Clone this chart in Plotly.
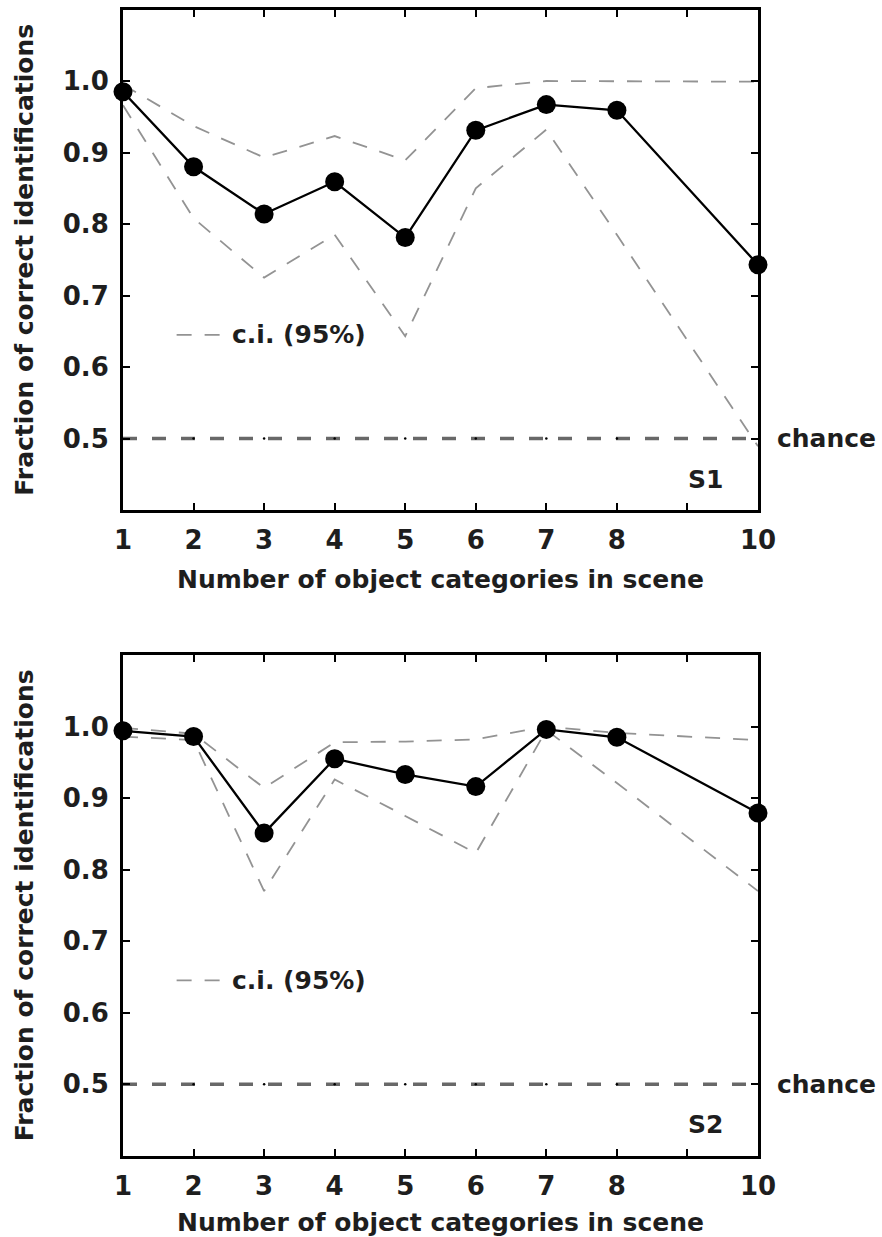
import plotly.graph_objects as go

# ---- data ----
n_categories = [1, 2, 3, 4, 5, 6, 7, 8, 10]

s1_mean = [0.985, 0.880, 0.814, 0.859, 0.781, 0.931, 0.967, 0.959, 0.743]
s1_upper = [0.995, 0.937, 0.893, 0.923, 0.889, 0.990, 1.000, 1.000, 0.999]
s1_lower = [0.966, 0.808, 0.725, 0.785, 0.643, 0.850, 0.932, 0.785, 0.489]

s2_mean = [0.994, 0.986, 0.851, 0.955, 0.933, 0.916, 0.996, 0.985, 0.879]
s2_upper = [0.998, 0.990, 0.914, 0.978, 0.979, 0.982, 1.000, 0.991, 0.981]
s2_lower = [0.986, 0.981, 0.770, 0.926, 0.875, 0.823, 0.995, 0.921, 0.770]

chance_level = 0.5
chance_x = [1, 10]
chance_marks_x = [2, 3, 4, 5, 6, 7, 8]

x_tickvals = [1, 2, 3, 4, 5, 6, 7, 8, 9, 10]
x_ticktext = ["1", "2", "3", "4", "5", "6", "7", "8", "", "10"]
y_tickvals = [0.5, 0.6, 0.7, 0.8, 0.9, 1.0]
y_ticktext = ["0.5", "0.6", "0.7", "0.8", "0.9", "1.0"]

panel_labels = ["S1", "S2"]
x_title = "Number of object categories in scene"
y_title = "Fraction of correct identifications"
ci_label = "c.i. (95%)"
chance_label = "chance"

# ---- styling ----
W, H = 882, 1237
FONT = "DejaVu Sans"
TXT = "#1e1e1e"
CI_COLOR = "#939393"
CHANCE_COLOR = "#686868"

x_dom = [123 / W, 758 / W]
y_doms = [[1 - 510 / H, 1 - 9.5 / H], [1 - 1155.7 / H, 1 - 655 / H]]

fig = go.Figure()

panels = [(s1_mean, s1_upper, s1_lower), (s2_mean, s2_upper, s2_lower)]
for i, (m, up, lo) in enumerate(panels):
    xa = "x" if i == 0 else "x2"
    ya = "y" if i == 0 else "y2"
    # chance line
    fig.add_trace(go.Scatter(
        x=chance_x, y=[chance_level] * len(chance_x), mode="lines",
        line=dict(color=CHANCE_COLOR, width=3.5, dash="14px,15px"),
        xaxis=xa, yaxis=ya, hoverinfo="skip", cliponaxis=False))
    fig.add_trace(go.Scatter(
        x=chance_marks_x, y=[chance_level] * len(chance_marks_x), mode="markers",
        marker=dict(color="black", size=2.5), xaxis=xa, yaxis=ya, hoverinfo="skip"))
    # confidence interval
    for ci in (up, lo):
        fig.add_trace(go.Scatter(
            x=n_categories, y=ci, mode="lines",
            line=dict(color=CI_COLOR, width=1.8, dash="15px,13px"),
            xaxis=xa, yaxis=ya, cliponaxis=False))
    # mean
    fig.add_trace(go.Scatter(
        x=n_categories, y=m, mode="lines+markers",
        line=dict(color="black", width=2.3),
        marker=dict(color="black", size=19),
        xaxis=xa, yaxis=ya, cliponaxis=False))

axis_common = dict(
    showline=True, linecolor="black", linewidth=3, mirror="ticks",
    ticks="inside", ticklen=7, tickwidth=2, tickcolor="black",
    showgrid=False, zeroline=False,
    tickfont=dict(family=FONT, size=26, color=TXT, weight="bold"),
)

layout = dict(
    width=W, height=H, margin=dict(l=0, r=0, t=0, b=0),
    paper_bgcolor="white", plot_bgcolor="white", showlegend=False,
)
for i in range(2):
    sfx = "" if i == 0 else "2"
    layout["xaxis" + sfx] = dict(
        axis_common, domain=x_dom, range=[1, 10], anchor="y" + sfx,
        tickvals=x_tickvals, ticktext=x_ticktext, ticklabelstandoff=5,
        title=dict(text=x_title, standoff=17,
                   font=dict(family=FONT, size=25, color=TXT, weight="bold")),
        automargin=False)
    layout["yaxis" + sfx] = dict(
        axis_common, domain=y_doms[i], range=[0.4, 1.1], anchor="x" + sfx,
        tickvals=y_tickvals, ticktext=y_ticktext, ticklabelstandoff=6,
        title=dict(text=y_title, standoff=22,
                   font=dict(family=FONT, size=25, color=TXT, weight="bold")),
        automargin=False)
fig.update_layout(**layout)

annotations = []
shapes = []
for i in range(2):
    sfx = "" if i == 0 else "2"
    xr, yr = "x" + sfx, "y" + sfx
    annotations.append(dict(
        text=ci_label, x=2.52, y=0.645, xref=xr, yref=yr, xanchor="left", yanchor="middle",
        showarrow=False, font=dict(family=FONT, size=25, color=TXT, weight="bold")))
    shapes.append(dict(
        type="line", x0=1.76, x1=2.38, y0=0.645, y1=0.645, xref=xr, yref=yr,
        line=dict(color=CI_COLOR, width=1.8, dash="15px,13px")))
    annotations.append(dict(
        text=chance_label, x=775 / W, y=chance_level, xref="paper", yref=yr,
        xanchor="left", yanchor="middle", showarrow=False,
        font=dict(family=FONT, size=25, color=TXT, weight="bold")))
    annotations.append(dict(
        text=panel_labels[i], x=9.53, y=0.443, xref=xr, yref=yr,
        xanchor="right", yanchor="middle", showarrow=False,
        font=dict(family=FONT, size=25, color=TXT, weight="bold")))
fig.update_layout(annotations=annotations, shapes=shapes)

fig.write_html(
    "out.html",
    config={"displayModeBar": False},
    post_script="document.body.style.margin='0';document.body.style.overflow='hidden';",
)
